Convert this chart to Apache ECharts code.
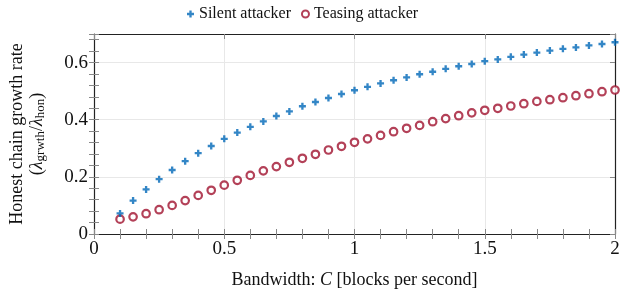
<!DOCTYPE html>
<html>
<head>
<meta charset="utf-8">
<script src="https://cdn.jsdelivr.net/npm/echarts@6/dist/echarts.min.js"></script>
<style>
  html, body { margin: 0; padding: 0; background: #fff; }
  #chart { width: 621px; height: 289px; }
</style>
</head>
<body>
<div id="chart"></div>
<script>
// bandwidth C, 0.1 .. 2.0 in steps of 0.05
var bandwidth = [0.1, 0.15, 0.2, 0.25, 0.3, 0.35, 0.4, 0.45, 0.5, 0.55,
  0.6, 0.65, 0.7, 0.75, 0.8, 0.85, 0.9, 0.95, 1.0, 1.05,
  1.1, 1.15, 1.2, 1.25, 1.3, 1.35, 1.4, 1.45, 1.5, 1.55,
  1.6, 1.65, 1.7, 1.75, 1.8, 1.85, 1.9, 1.95, 2.0];
var silent = [0.072, 0.117, 0.156, 0.192, 0.224, 0.255, 0.283, 0.308, 0.333, 0.355,
  0.375, 0.394, 0.413, 0.429, 0.447, 0.462, 0.476, 0.490, 0.503, 0.515,
  0.527, 0.538, 0.548, 0.559, 0.568, 0.578, 0.587, 0.595, 0.605, 0.611,
  0.620, 0.628, 0.635, 0.642, 0.648, 0.653, 0.660, 0.665, 0.671];
var teasing = [0.052, 0.060, 0.071, 0.085, 0.100, 0.117, 0.135, 0.153, 0.171, 0.188,
  0.205, 0.221, 0.236, 0.251, 0.265, 0.279, 0.294, 0.307, 0.321, 0.333,
  0.345, 0.358, 0.370, 0.380, 0.393, 0.404, 0.414, 0.424, 0.433, 0.440,
  0.448, 0.456, 0.464, 0.470, 0.477, 0.484, 0.491, 0.498, 0.504];
var seriesNames = ['Silent attacker', 'Teasing attacker'];

var blue = '#0068b8';
var red = '#a0122e';
var serif = 'Liberation Serif';
var plus = 'path://M2,0H4V2H6V4H4V6H2V4H0V2H2Z';

function pairs(ys) {
  return bandwidth.map(function(x, i) { return [x, ys[i]]; });
}

// axis helper: major axes carry labels and grid, minor ones only ticks
function axis(pos, min, max, interval, opts) {
  var a = {
    type: 'value', position: pos, min: min, max: max, interval: interval,
    axisLine: { show: true, onZero: false, lineStyle: { color: '#222', width: 1.2 } },
    axisTick: { show: true, inside: true, length: 5, lineStyle: { color: '#888' } },
    axisLabel: { show: false },
    splitLine: { show: false }
  };
  for (var k in opts) a[k] = opts[k];
  return a;
}

var tickLabel = {
  show: true, margin: 6,
  formatter: '{v|{value}}',
  rich: { v: { fontFamily: serif, fontSize: 19, color: '#111' } }
};

var chart = echarts.init(document.getElementById('chart'), null, { renderer: 'canvas' });
chart.setOption({
  animation: false,
  textStyle: { fontFamily: serif, color: '#111' },
  legend: {
    top: 1,
    left: 182,
    itemWidth: 7,
    itemHeight: 7,
    itemGap: 10,
    formatter: '{n|{name}}',
    textStyle: { fontFamily: serif, fontSize: 16, color: '#111', rich: { n: { fontFamily: serif, fontSize: 16, color: '#111' } } },
    data: [
      { name: seriesNames[0], icon: plus },
      { name: seriesNames[1], icon: 'circle' }
    ]
  },
  grid: { left: 94, right: 6, top: 34, bottom: 55, outerBoundsMode: 'none' },
  xAxis: [
    axis('bottom', 0, 2, 0.5, {
      name: '{t|Bandwidth: }{i|C}{t| [blocks per second]}',
      nameLocation: 'middle',
      nameGap: 37,
      nameTextStyle: {
        rich: {
          t: { fontFamily: serif, fontSize: 18, color: '#111' },
          i: { fontFamily: serif, fontSize: 18, fontStyle: 'italic', color: '#111' }
        }
      },
      axisLabel: tickLabel,
      splitLine: { show: true, lineStyle: { color: '#e8e8e8' } }
    }),
    axis('bottom', 0, 2, 0.1, { axisLine: { show: false } }),
    axis('top', 0, 2, 0.5, {}),
    axis('top', 0, 2, 0.1, { axisLine: { show: false } })
  ],
  yAxis: [
    axis('left', 0, 0.7, 0.2, {
      name: '{t|Honest chain growth rate}\n{t|(}{l|λ}{s|grwth}{t|/}{l|λ}{s|hon}{t|)}',
      nameLocation: 'middle',
      nameGap: 47,
      nameTextStyle: {
        lineHeight: 20,
        rich: {
          t: { fontFamily: serif, fontSize: 18, color: '#111', lineHeight: 20 },
          l: { fontFamily: serif, fontSize: 18, fontStyle: 'italic', color: '#111', lineHeight: 20 },
          s: { fontFamily: serif, fontSize: 13, color: '#111', verticalAlign: 'bottom', lineHeight: 17 }
        }
      },
      axisLabel: Object.assign({ showMaxLabel: false }, tickLabel),
      splitLine: { show: true, lineStyle: { color: '#e8e8e8' } }
    }),
    axis('left', 0, 0.7, 0.04, { axisLine: { show: false } }),
    axis('right', 0, 0.7, 0.2, {}),
    axis('right', 0, 0.7, 0.04, { axisLine: { show: false } })
  ],
  series: [
    {
      name: seriesNames[0],
      type: 'scatter',
      symbol: plus,
      symbolSize: 7,
      itemStyle: { color: blue },
      data: pairs(silent),
      z: 3
    },
    {
      name: seriesNames[1],
      type: 'scatter',
      symbol: 'circle',
      symbolSize: 7.5,
      itemStyle: { color: '#fff', borderColor: red, borderWidth: 2.2 },
      data: pairs(teasing),
      z: 2
    }
  ]
});
</script>
</body>
</html>
